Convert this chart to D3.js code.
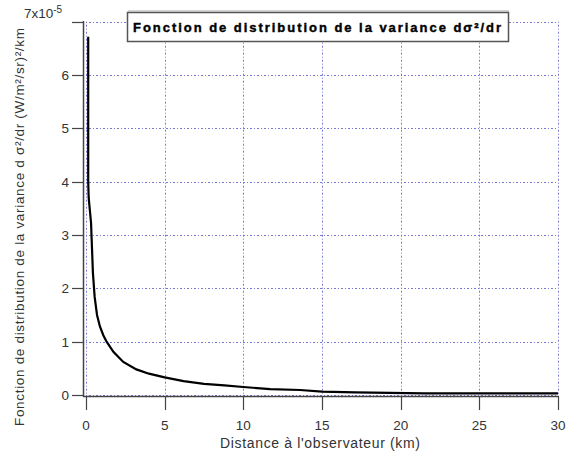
<!DOCTYPE html>
<html><head><meta charset="utf-8">
<script src="https://cdn.jsdelivr.net/npm/d3@7"></script>
<style>body{margin:0;background:#fff}svg{display:block}</style>
</head><body>
<script>
const distanceKm = [0.14, 0.14, 0.17, 0.25, 0.32, 0.38, 0.44, 0.55, 0.7, 0.89, 1.1, 1.31, 1.74, 2.37, 3.2, 4.0, 5.0, 6.2, 7.5, 8.8, 10, 11.7, 13.6, 15, 17.1, 21.5, 30];
const variance = [6.72, 4.0, 3.7, 3.45, 3.23, 2.76, 2.29, 1.84, 1.5, 1.28, 1.12, 1.0, 0.81, 0.62, 0.48, 0.40, 0.33, 0.26, 0.21, 0.18, 0.15, 0.11, 0.094, 0.065, 0.05, 0.03, 0.03];
const xTicks = [0, 5, 10, 15, 20, 25, 30];
const yTicks = [0, 1, 2, 3, 4, 5, 6, 7];
const titleText = "Fonction de distribution de la variance dσ²/dr";
const xLabel = "Distance à l'observateur (km)";
const yLabel = "Fonction de distribution de la variance d σ²/dr (W/m²/sr)²/km";

(function () {
const W = 567, H = 455;
const svg = d3.select("body").append("svg").attr("width", W).attr("height", H);
const x = d3.scaleLinear().domain([0, 30]).range([86, 558]);
const y = d3.scaleLinear().domain([0, 7]).range([395, 21.7]);
const font = "'Liberation Sans', Arial, sans-serif";
const gridColor = "#7878d4";

// grid
svg.append("g").selectAll("line").data(xTicks).join("line")
  .attr("x1", d => Math.round(x(d)) + 0.5).attr("x2", d => Math.round(x(d)) + 0.5)
  .attr("y1", y(7)).attr("y2", y(0))
  .attr("stroke", gridColor).attr("stroke-dasharray", "1,2,2,2").attr("stroke-width", 1);
svg.append("g").selectAll("line").data(yTicks).join("line")
  .attr("y1", d => Math.round(y(d)) + 0.5).attr("y2", d => Math.round(y(d)) + 0.5)
  .attr("x1", x(0)).attr("x2", x(30))
  .attr("stroke", gridColor).attr("stroke-dasharray", "1,2,2,2").attr("stroke-width", 1);

// axes
const axisColor = "#444";
svg.append("line").attr("x1", 83.5).attr("x2", 83.5).attr("y1", 21).attr("y2", 397)
  .attr("stroke", axisColor).attr("stroke-width", 1.5);
svg.append("line").attr("x1", 83).attr("x2", 559).attr("y1", 396.5).attr("y2", 396.5)
  .attr("stroke", axisColor).attr("stroke-width", 1.5);
svg.append("g").selectAll("line").data(yTicks).join("line")
  .attr("x1", 72).attr("x2", 83)
  .attr("y1", d => Math.round(y(d)) + 0.5).attr("y2", d => Math.round(y(d)) + 0.5)
  .attr("stroke", axisColor).attr("stroke-width", 1.2);
svg.append("g").selectAll("line").data(xTicks).join("line")
  .attr("x1", d => Math.round(x(d)) + 0.5).attr("x2", d => Math.round(x(d)) + 0.5)
  .attr("y1", 397).attr("y2", 410)
  .attr("stroke", axisColor).attr("stroke-width", 1.2);

// tick labels
svg.append("g").selectAll("text").data(yTicks.filter(d => d < 7)).join("text")
  .attr("x", 69).attr("y", d => y(d) + 5)
  .attr("text-anchor", "end").attr("font-family", font).attr("font-size", 13.5).attr("fill", "#333")
  .text(d => d);
const topLabel = svg.append("text").attr("x", 24).attr("y", 18)
  .attr("font-family", font).attr("font-size", 13.5).attr("fill", "#333");
topLabel.append("tspan").text("7x10");
topLabel.append("tspan").attr("dy", -5).attr("font-size", 10).text("-5");

svg.append("g").selectAll("text").data(xTicks).join("text")
  .attr("x", d => x(d)).attr("y", 430)
  .attr("text-anchor", "middle").attr("font-family", font).attr("font-size", 13.5).attr("fill", "#333")
  .text(d => d);

// axis titles
svg.append("text").attr("x", 320).attr("y", 448).attr("text-anchor", "middle")
  .attr("font-family", font).attr("font-size", 14).attr("fill", "#333")
  .attr("textLength", 200).attr("lengthAdjust", "spacing").text(xLabel);
svg.append("text").attr("transform", "translate(24,227) rotate(-90)").attr("text-anchor", "middle")
  .attr("font-family", font).attr("font-size", 13.5).attr("fill", "#333")
  .attr("textLength", 398).attr("lengthAdjust", "spacing").text(yLabel);

// curve
const line = d3.line().x((d, i) => x(distanceKm[i])).y(d => y(d)).curve(d3.curveLinear);
svg.append("path").datum(variance).attr("d", line)
  .attr("fill", "none").attr("stroke", "#000").attr("stroke-width", 2.2);

// title box
svg.append("rect").attr("x", 127.5).attr("y", 12.5).attr("width", 381).attr("height", 29)
  .attr("fill", "#fff").attr("stroke", "#555").attr("stroke-width", 1.5);
svg.append("line").attr("x1", 128).attr("x2", 509).attr("y1", 11).attr("y2", 11)
  .attr("stroke", "#aaa").attr("stroke-width", 1);
svg.append("text").attr("x", 133).attr("y", 32)
  .attr("font-family", font).attr("font-weight", "bold").attr("font-size", 13).attr("fill", "#000")
  .attr("stroke", "#000").attr("stroke-width", 0.4)
  .attr("textLength", 368).attr("lengthAdjust", "spacing")
  .text(titleText);
})();
</script>
</body></html>
